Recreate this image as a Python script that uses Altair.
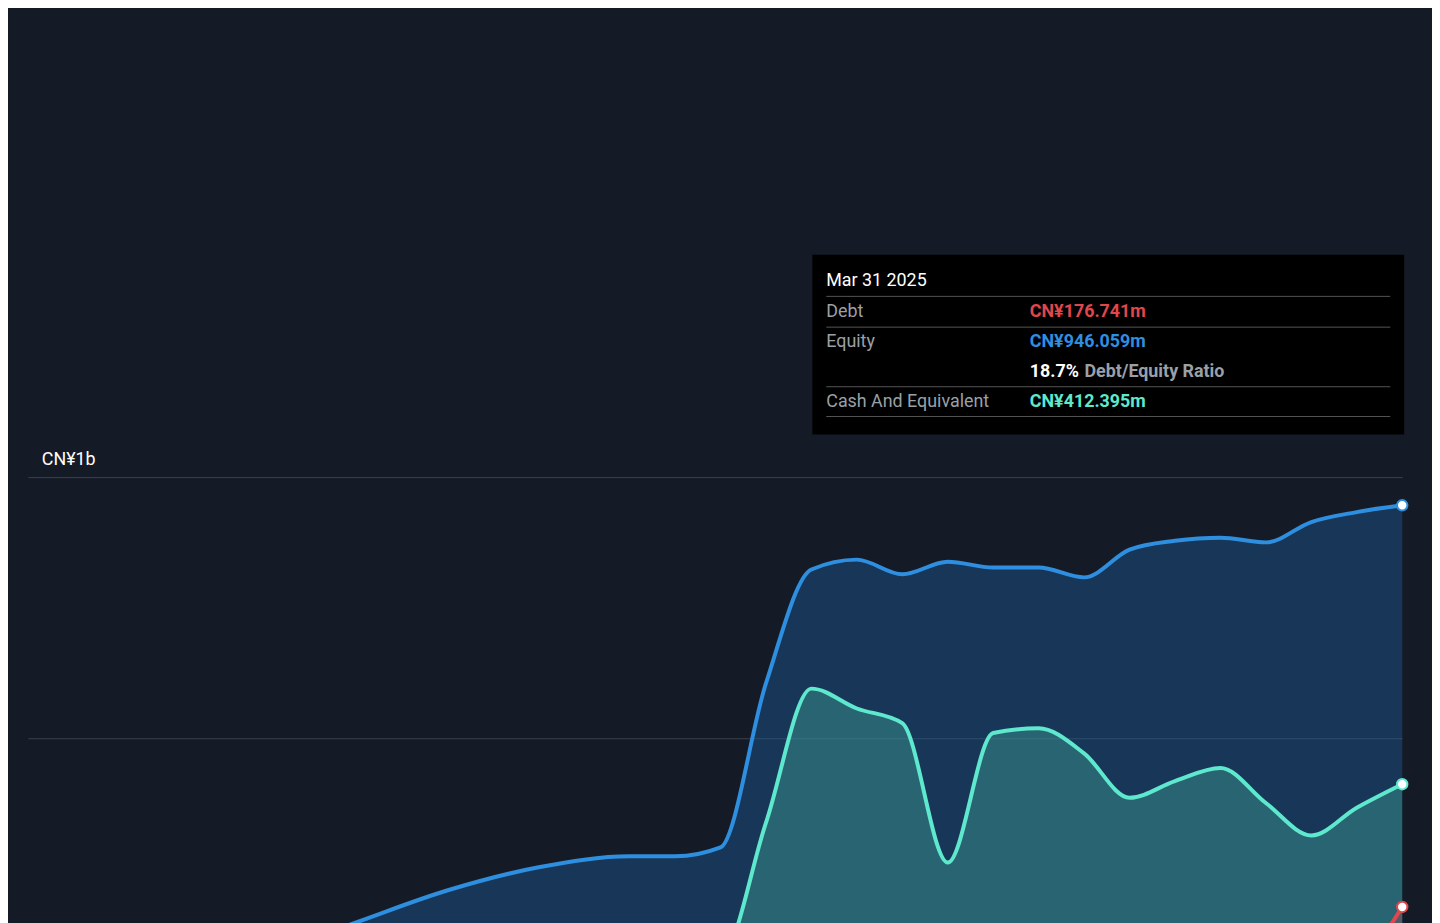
import altair as alt
import pandas as pd

years = [2018.0, 2018.49, 2019.0, 2019.5, 2020.0, 2020.5, 2021.0, 2021.25, 2021.5, 2021.75,
         2022.0, 2022.25, 2022.5, 2022.75, 2023.0, 2023.25, 2023.5, 2023.75, 2024.0, 2024.25,
         2024.5, 2024.75, 2025.0, 2025.25]
equity = [0.040, 0.057, 0.086, 0.148, 0.209, 0.253, 0.274, 0.274, 0.291, 0.605,
          0.823, 0.842, 0.814, 0.838, 0.827, 0.827, 0.808, 0.861, 0.878, 0.884,
          0.875, 0.914, 0.933, 0.946]
cash = [0.010, 0.013, 0.019, 0.063, 0.103, 0.101, 0.099, 0.099, 0.082, 0.338,
        0.595, 0.557, 0.529, 0.262, 0.510, 0.519, 0.471, 0.386, 0.418, 0.443,
        0.376, 0.314, 0.367, 0.412]
debt = [0.010, 0.012, 0.017, 0.008, 0.002, 0.002, 0.002, 0.002, 0.002, 0.002,
        0.002, 0.003, 0.003, 0.002, 0.002, 0.002, 0.002, 0.011, 0.011, 0.019,
        0.023, 0.030, 0.063, 0.177]

BG = "#151b26"
W, H = 1384, 526
xs = alt.Scale(domain=[2017.69, 2025.25], nice=False, zero=False)
ys = alt.Scale(domain=[0, 1], nice=False)

df = pd.DataFrame({"year": years, "Equity": equity, "Cash": cash, "Debt": debt})
base = alt.Chart(df)


def series(col, line_color, fill_color, op):
    area = base.mark_area(interpolate="monotone", opacity=op, color=fill_color).encode(
        x=alt.X("year:Q", scale=xs,
                axis=alt.Axis(values=list(range(2018, 2026)), format="d", title=None,
                              labelColor="white", labelFontSize=18, labelPadding=10,
                              domain=True, domainColor="#888", ticks=True, tickColor="#888",
                              grid=False, labelFont="Roboto")),
        y=alt.Y(f"{col}:Q", scale=ys,
                axis=alt.Axis(values=[0, 0.5, 1], labels=False, ticks=False, domain=False,
                              title=None, gridColor="#3a414c", gridWidth=1)),
    )
    line = base.mark_line(interpolate="monotone", color=line_color, strokeWidth=4).encode(
        x="year:Q", y=f"{col}:Q")
    dot = base.transform_filter(alt.datum.year > 2025.2).mark_point(
        filled=True, fill="white", stroke=line_color, strokeWidth=2, size=110, opacity=1
    ).encode(x="year:Q", y=f"{col}:Q")
    return area + line + dot


eq = series("Equity", "#2e8fe0", "#1d5a96", 0.45)
ca = series("Cash", "#5ee8cd", "#3e9c94", 0.45)
de = series("Debt", "#e0474c", "#6d5560", 0.6)

ylabels = alt.Chart(pd.DataFrame({"v": [1.0, 0.0], "t": ["CN¥1b", "CN¥0"]})).mark_text(
    align="left", baseline="bottom", dy=-8, dx=14, color="white", fontSize=18, font="Roboto"
).encode(x=alt.value(0), y=alt.Y("v:Q", scale=ys), text="t:N")

# tooltip box
box = alt.Chart(pd.DataFrame({"a": [0]})).mark_rect(color="black").encode(
    x=alt.value(790), x2=alt.value(1386), y=alt.value(-224), y2=alt.value(-43))
rows_y = [-197, -166, -136, -106, -76]
tip = pd.DataFrame({
    "x": [804, 804, 1009, 804, 1009, 1009, 1064, 804, 1009],
    "y": [rows_y[0], rows_y[1], rows_y[1], rows_y[2], rows_y[2], rows_y[3], rows_y[3], rows_y[4], rows_y[4]],
    "t": ["Mar 31 2025", "Debt", "CN¥176.741m", "Equity", "CN¥946.059m", "18.7%",
          "Debt/Equity Ratio", "Cash And Equivalent", "CN¥412.395m"],
    "c": ["white", "#9aa0a8", "#e0474c", "#9aa0a8", "#2e8fe0", "white", "#9aa0a8", "#9aa0a8", "#5ee8cd"],
    "w": ["normal", "normal", "bold", "normal", "bold", "bold", "bold", "normal", "bold"],
})


def tip_layer(weight):
    return alt.Chart(tip).transform_filter(alt.datum.w == weight).mark_text(
        align="left", baseline="middle", fontSize=18, font="Roboto", fontWeight=weight
    ).encode(x=alt.X("x:Q", scale=None), y=alt.Y("y:Q", scale=None), text="t:N",
             color=alt.Color("c:N", scale=None))


seps = alt.Chart(pd.DataFrame({"y": [-182, -151, -91, -61]})).mark_rule(color="#555", strokeWidth=1).encode(
    x=alt.value(804), x2=alt.value(1372), y=alt.Y("y:Q", scale=None))

# legend
leg = pd.DataFrame({
    "x0": [0, 118, 247], "x1": [110, 240, 494],
    "dx": [28, 146, 275], "tx": [49, 166, 296],
    "t": ["Debt", "Equity", "Cash And Equivalent"],
    "c": ["#e0474c", "#2e8fe0", "#5ee8cd"],
})
lb = alt.Chart(leg)
legbox = lb.mark_rect(color="#2a303a", cornerRadius=4).encode(
    x=alt.X("x0:Q", scale=None), x2="x1:Q", y=alt.value(H + 70), y2=alt.value(H + 125))
legdot = lb.mark_circle(size=160, opacity=1).encode(
    x=alt.X("dx:Q", scale=None), y=alt.value(H + 94), color=alt.Color("c:N", scale=None))
legtxt = lb.mark_text(align="left", baseline="middle", fontSize=19, color="white", font="Roboto").encode(
    x=alt.X("tx:Q", scale=None), y=alt.value(H + 95), text="t:N")

chart = alt.layer(eq, ca, de, ylabels, box, seps, tip_layer("normal"), tip_layer("bold"),
                  legbox, legdot, legtxt).properties(
    width=W, height=H, background=BG,
    padding={"left": 20, "top": 244, "right": 20, "bottom": 130},
).configure_view(strokeWidth=0)

chart.save("out.html", embed_options={"renderer": "svg", "actions": False})
